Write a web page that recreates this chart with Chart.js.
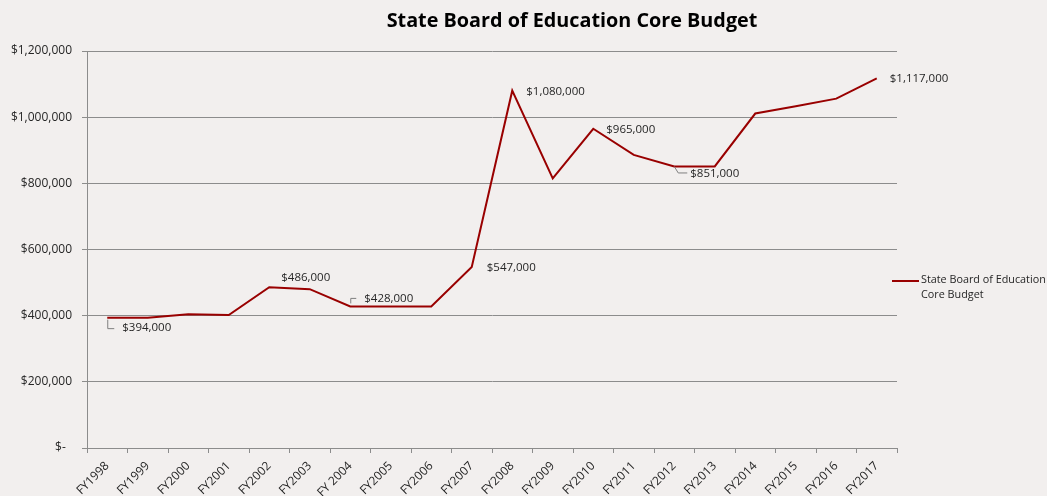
<!DOCTYPE html>
<html>
<head>
<meta charset="utf-8">
<script src="https://cdn.jsdelivr.net/npm/chart.js@4.4.1/dist/chart.umd.min.js"></script>
<style>
  html, body { margin: 0; padding: 0; background: #f2efee; }
  #wrap { width: 1047px; height: 496px; }
</style>
</head>
<body>
<div id="wrap"><canvas id="budgetChart"></canvas></div>
<script>
// Fiscal years and core budget amounts
const years = ['FY1998', 'FY1999', 'FY2000', 'FY2001', 'FY2002', 'FY2003', 'FY 2004', 'FY2005', 'FY2006', 'FY2007',
               'FY2008', 'FY2009', 'FY2010', 'FY2011', 'FY2012', 'FY2013', 'FY2014', 'FY2015', 'FY2016', 'FY2017'];
const coreBudget = [394000, 394000, 404000, 402000, 486000, 480000, 428000, 428000, 428000, 547000,
                    1080000, 815000, 965000, 886000, 851000, 851000, 1011000, 1033000, 1056000, 1117000];
// Years that get a value label
const labelledYears = [0, 4, 6, 9, 10, 12, 14, 19];

const chartTitle = 'State Board of Education Core Budget';
const seriesName = ['State Board of Education', 'Core Budget'];

const FONT = "'Open Sans', sans-serif";
const LINE_COLOR = '#990000';
const GRID_COLOR = '#8c8c8c';

function money(v) {
    if (v === 0) return '$-  ';
    return '$' + v.toLocaleString('en-US');
}

// label placement relative to the point, plus optional leader line
const labelStyle = {
    0:  { dx: 15, dy: 10, leader: [[0.5, 2], [0.5, 11], [7, 11]] },
    4:  { dx: 12, dy: -9 },
    6:  { dx: 14, dy: -8, leader: [[0.5, -3], [0.5, -8], [6, -8]] },
    9:  { dx: 15, dy: 1 },
    10: { dx: 14, dy: 1 },
    12: { dx: 13, dy: 1 },
    14: { dx: 16, dy: 7.5, leader: [[0, 0], [4, 6.5], [13, 6.5]] },
    19: { dx: 13, dy: 0 }
};

const valueLabels = {
    id: 'valueLabels',
    afterDatasetsDraw(chart) {
        const ctx = chart.ctx;
        const pts = chart.getDatasetMeta(0).data;
        ctx.save();
        ctx.font = '11.5px ' + FONT;
        ctx.fillStyle = '#262626';
        ctx.textAlign = 'left';
        ctx.textBaseline = 'middle';
        labelledYears.forEach(i => {
            const p = pts[i];
            const s = labelStyle[i];
            if (s.leader) {
                ctx.beginPath();
                ctx.strokeStyle = '#7f7f7f';
                ctx.lineWidth = 1;
                s.leader.forEach(([lx, ly], k) => {
                    if (k === 0) ctx.moveTo(p.x + lx, p.y + ly);
                    else ctx.lineTo(p.x + lx, p.y + ly);
                });
                ctx.stroke();
            }
            ctx.fillText(money(coreBudget[i]), p.x + s.dx, p.y + s.dy);
        });
        ctx.restore();
    }
};

// title and two-line legend drawn by hand
const titleAndLegend = {
    id: 'titleAndLegend',
    afterDraw(chart) {
        const ctx = chart.ctx;
        ctx.save();
        ctx.font = 'bold 19.8px ' + FONT;
        ctx.fillStyle = '#000';
        ctx.textAlign = 'center';
        ctx.textBaseline = 'middle';
        ctx.fillText(chartTitle, 572, 21);

        ctx.strokeStyle = LINE_COLOR;
        ctx.lineWidth = 2;
        ctx.beginPath();
        ctx.moveTo(892, 281);
        ctx.lineTo(919, 281);
        ctx.stroke();

        ctx.font = '10.8px ' + FONT;
        ctx.fillStyle = '#262626';
        ctx.textAlign = 'left';
        ctx.fillText(seriesName[0], 921, 280);
        ctx.fillText(seriesName[1], 921, 295);
        ctx.restore();
    }
};

new Chart(document.getElementById('budgetChart'), {
    type: 'line',
    data: {
        labels: years,
        datasets: [{
            label: seriesName.join(' '),
            data: coreBudget,
            borderColor: LINE_COLOR,
            borderWidth: 2,
            pointRadius: 0,
            tension: 0,
            fill: false
        }]
    },
    options: {
        responsive: true,
        maintainAspectRatio: false,
        animation: false,
        layout: { padding: { top: 51, right: 150, left: 0, bottom: 0 } },
        plugins: {
            legend: { display: false },
            title: { display: false },
            tooltip: { enabled: false }
        },
        scales: {
            x: {
                offset: true,
                grid: {
                    offset: true,
                    drawOnChartArea: false,
                    drawTicks: true,
                    tickLength: 5,
                    color: GRID_COLOR
                },
                border: { color: GRID_COLOR },
                ticks: {
                    autoSkip: false,
                    minRotation: 45,
                    maxRotation: 45,
                    padding: 6,
                    color: '#262626',
                    font: { family: FONT, size: 12 }
                },
                afterFit(scale) { scale.height = 48; }
            },
            y: {
                min: 0,
                max: 1200000,
                grid: {
                    color: GRID_COLOR,
                    tickLength: 5
                },
                border: { color: GRID_COLOR },
                ticks: {
                    stepSize: 200000,
                    padding: 10,
                    color: '#262626',
                    font: { family: FONT, size: 12 },
                    callback: v => money(v)
                },
                afterFit(scale) { scale.width = 87; }
            }
        }
    },
    plugins: [valueLabels, titleAndLegend]
});
</script>
</body>
</html>
